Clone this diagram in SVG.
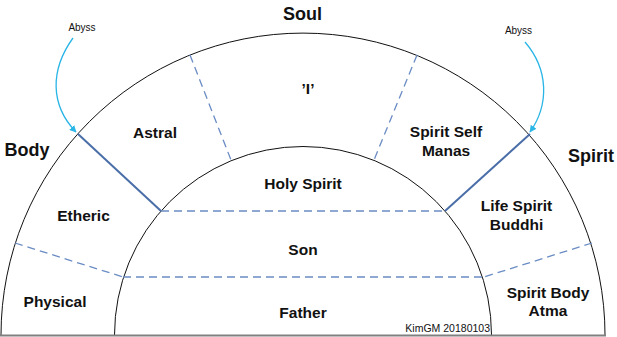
<svg xmlns="http://www.w3.org/2000/svg" width="617" height="337" viewBox="0 0 617 337">
<defs>
<marker id="ah" viewBox="0 0 10 10" refX="9" refY="5" markerWidth="7" markerHeight="7" orient="auto" markerUnits="userSpaceOnUse">
<path d="M0,0 L10,5 L0,10 z" fill="#29b5e6"/>
</marker>
<style>
text{font-family:"Liberation Sans",Arial,sans-serif;fill:#111;text-anchor:middle}
.big{font-size:18px;font-weight:bold}
.mid{font-size:15.5px;font-weight:bold}
.sm{font-size:10px}
.arc{fill:none;stroke:#111;stroke-width:1}
.dash{fill:none;stroke:#6a8cc4;stroke-width:1.3;stroke-dasharray:8 5}
.solid{fill:none;stroke:#4a6ea8;stroke-width:2}
.abyss{fill:none;stroke:#29b5e6;stroke-width:1.3}
</style>
</defs>
<rect width="617" height="337" fill="#fff"/>
<g id="connectors">
<path id="outer-arc" class="arc" d="M1,335 A302,302 0 0 1 605,335"/>
<path id="inner-arc" class="arc" d="M114.5,335 A188.5,188.5 0 0 1 491.5,335"/>
<line x1="0" y1="335.5" x2="606" y2="335.5" stroke="#808080" stroke-width="2"/>
<line class="solid" x1="78" y1="134" x2="161" y2="211"/>
<line class="solid" x1="530" y1="134" x2="445" y2="211"/>
<line class="dash" x1="161" y1="211" x2="445" y2="211"/>
<line class="dash" x1="123" y1="277" x2="484" y2="277"/>
<line class="dash" x1="15" y1="243" x2="123" y2="277"/>
<line class="dash" x1="592" y1="243" x2="484" y2="277"/>
<line class="dash" x1="190" y1="55" x2="231" y2="160"/>
<line class="dash" x1="417" y1="55" x2="374" y2="160"/>
<path class="abyss" d="M73,38 C50,70 50,105 76,132" marker-end="url(#ah)"/>
<path class="abyss" d="M525,42 C549,70 549,105 530,132" marker-end="url(#ah)"/>
</g>
<g id="label-soul"><text class="big" x="302.5" y="20">Soul</text></g>
<g id="label-body"><text class="big" x="27" y="156">Body</text></g>
<g id="label-spirit"><text class="big" x="591" y="162">Spirit</text></g>
<g id="abyss-left"><text class="sm" x="82" y="31">Abyss</text></g>
<g id="abyss-right"><text class="sm" x="518.5" y="34">Abyss</text></g>
<g id="node-astral"><text class="mid" x="155" y="138">Astral</text></g>
<g id="node-i"><text class="mid" x="308" y="94">’I’</text></g>
<g id="node-spirit-self"><text class="mid" x="446" y="137">Spirit Self</text><text class="mid" x="446" y="156">Manas</text></g>
<g id="node-holy-spirit"><text class="mid" x="303" y="189">Holy Spirit</text></g>
<g id="node-etheric"><text class="mid" x="83.5" y="221">Etheric</text></g>
<g id="node-life-spirit"><text class="mid" x="516.5" y="211">Life Spirit</text><text class="mid" x="516.5" y="230">Buddhi</text></g>
<g id="node-son"><text class="mid" x="303" y="255">Son</text></g>
<g id="node-physical"><text class="mid" x="55" y="307">Physical</text></g>
<g id="node-father"><text class="mid" x="303" y="318">Father</text></g>
<g id="node-spirit-body"><text class="mid" x="548" y="298">Spirit Body</text><text class="mid" x="548" y="316">Atma</text></g>
<g id="credit"><text class="sm" x="490" y="332" style="text-anchor:end;font-size:10.5px">KimGM 20180103</text></g>
</svg>
